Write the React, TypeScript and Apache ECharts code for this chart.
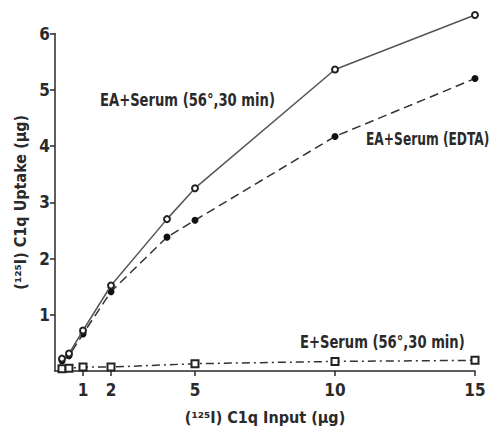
import React, { useEffect, useRef } from "react";
import * as echarts from "echarts";

const heatedSerum: [number, number][] = [
  [0.25, 0.22], [0.5, 0.31], [1, 0.72], [2, 1.52], [4, 2.7], [5, 3.25], [10, 5.36], [15, 6.33],
];
const edtaSerum: [number, number][] = [
  [0.25, 0.18], [0.5, 0.27], [1, 0.66], [2, 1.41], [4, 2.38], [5, 2.68], [10, 4.17], [15, 5.2],
];
const eSerum: [number, number][] = [
  [0.25, 0.04], [0.5, 0.05], [1, 0.07], [2, 0.07], [5, 0.13], [10, 0.17], [15, 0.19],
];
const xTicks = [1, 2, 5, 10, 15];
const yTicks = [1, 2, 3, 4, 5, 6];
const labels = {
  heated: "EA+Serum (56°,30 min)",
  edta: "EA+Serum (EDTA)",
  e: "E+Serum (56°,30 min)",
};

const FONT = "'DejaVu Sans Condensed', 'DejaVu Sans', sans-serif";
const INK = "#2a2a2a";

export default function App() {
  const ref = useRef<HTMLDivElement>(null);
  useEffect(() => {
    if (!ref.current) return;
    const chart = echarts.init(ref.current, undefined, { renderer: "svg" });
    const textStyle = {
      fontFamily: FONT,
      fontWeight: "bold" as const,
      fontSize: 17,
      fill: INK,
      verticalAlign: "middle" as const,
      align: "left" as const,
    };
    const ann = (text: string, x: number, y: number, sx: number) => ({
      type: "text",
      x,
      y,
      scaleX: sx,
      scaleY: 1.05,
      style: { ...textStyle, text, x: 0, y: 0 },
    });
    chart.setOption({
      animation: false,
      backgroundColor: "#ffffff",
      grid: { left: 55, right: 18, top: 33.5, bottom: 61, containLabel: false, outerBoundsMode: "none" },
      xAxis: {
        type: "value",
        min: 0,
        max: 15,
        splitLine: { show: false },
        axisLine: { show: true, lineStyle: { color: INK, width: 1.5 } },
        axisTick: { show: true, inside: false, length: 5, customValues: xTicks, lineStyle: { color: INK, width: 1.5 } },
        axisLabel: { customValues: xTicks, color: INK, fontFamily: FONT, fontWeight: "bold", fontSize: 17, margin: 10 },
        name: "(¹²⁵I) C1q Input (µg)",
        nameLocation: "middle",
        nameGap: 38,
        nameTextStyle: { color: INK, fontFamily: FONT, fontWeight: "bold", fontSize: 16 },
      },
      yAxis: {
        type: "value",
        min: 0,
        max: 6,
        splitLine: { show: false },
        axisLine: { show: true, lineStyle: { color: INK, width: 1.5 } },
        axisTick: { show: true, inside: false, length: 5, customValues: yTicks, lineStyle: { color: INK, width: 1.5 } },
        axisLabel: { customValues: yTicks, color: INK, fontFamily: FONT, fontWeight: "bold", fontSize: 17, margin: 5 },
        name: "(¹²⁵I) C1q Uptake (µg)",
        nameLocation: "middle",
        nameGap: 21,
        nameTextStyle: { color: INK, fontFamily: FONT, fontWeight: "bold", fontSize: 16 },
      },
      series: [
        {
          type: "line",
          data: heatedSerum,
          clip: false,
          symbol: "emptyCircle",
          symbolSize: 6,
          lineStyle: { color: "#555", width: 1.5, type: "solid" },
          itemStyle: { color: "#222", borderWidth: 1.8 },
          z: 3,
        },
        {
          type: "line",
          data: edtaSerum,
          clip: false,
          symbol: "circle",
          symbolSize: 7,
          lineStyle: { color: "#333", width: 1.5, type: [9, 5] },
          itemStyle: { color: "#111" },
          z: 2,
        },
        {
          type: "line",
          data: eSerum,
          clip: false,
          symbol: "emptyRect",
          symbolSize: 7,
          lineStyle: { color: "#333", width: 1.5, type: [8, 4, 2, 4] },
          itemStyle: { color: "#222", borderWidth: 1.8 },
          z: 2,
        },
      ],
      graphic: [
        ann(labels.heated, 100, 100, 0.86),
        ann(labels.edta, 366, 139, 0.8),
        ann(labels.e, 300, 342, 0.86),
      ],
    });
    return () => chart.dispose();
  }, []);
  return (
    <div
      ref={ref}
      style={{ position: "fixed", left: 0, top: 0, width: 493, height: 432, background: "#fff" }}
    />
  );
}
